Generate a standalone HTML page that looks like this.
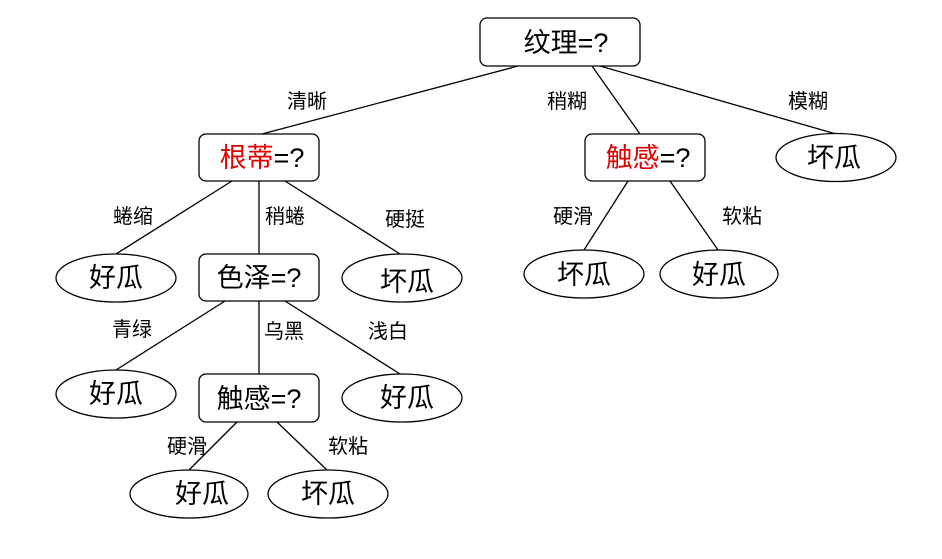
<!DOCTYPE html>
<html><head><meta charset="utf-8"><style>html,body{margin:0;padding:0;background:#fff}svg{display:block}text{font-family:"Liberation Sans","Noto Sans CJK SC",sans-serif;}</style></head>
<body>
<svg width="942" height="559" viewBox="0 0 942 559" xmlns="http://www.w3.org/2000/svg">
<g stroke="#000" stroke-width="1.3" fill="none">
<line x1="518" y1="66" x2="262" y2="134"/>
<line x1="592" y1="66" x2="640" y2="134"/>
<line x1="600" y1="66" x2="836" y2="134"/>
<line x1="232" y1="181" x2="116" y2="254"/>
<line x1="259" y1="181" x2="259" y2="254"/>
<line x1="285" y1="181" x2="400" y2="254"/>
<line x1="628" y1="181" x2="584" y2="250"/>
<line x1="670" y1="181" x2="718" y2="250"/>
<line x1="225" y1="301" x2="116" y2="370"/>
<line x1="259" y1="301" x2="259" y2="374"/>
<line x1="285" y1="301" x2="400" y2="374"/>
<line x1="237" y1="422" x2="189" y2="470"/>
<line x1="277" y1="422" x2="327" y2="470"/>
</g>
<g stroke="#000" stroke-width="1.3" fill="#fff">
<rect x="480" y="18" width="160" height="48" rx="7"/>
<rect x="199" y="134" width="120" height="47" rx="7"/>
<rect x="585" y="134" width="120" height="47" rx="7"/>
<rect x="199" y="254" width="120" height="47" rx="7"/>
<rect x="199" y="374" width="120" height="48" rx="7"/>
<ellipse cx="836" cy="157.5" rx="60" ry="24"/>
<ellipse cx="116" cy="278" rx="60" ry="24"/>
<ellipse cx="402" cy="278" rx="60" ry="24"/>
<ellipse cx="584" cy="274" rx="60" ry="24"/>
<ellipse cx="719" cy="274" rx="59" ry="24"/>
<ellipse cx="116" cy="394" rx="60" ry="24"/>
<ellipse cx="402" cy="398" rx="60" ry="24"/>
<ellipse cx="189" cy="494" rx="59" ry="24"/>
<ellipse cx="328" cy="494" rx="60" ry="24"/>
</g>
<g font-size="27" text-anchor="middle" fill="#000">
<text x="566" y="52">纹理=?</text>
<text x="262" y="167"><tspan fill="#e00000">根蒂</tspan>=?</text>
<text x="648" y="167"><tspan fill="#e00000">触感</tspan>=?</text>
<text x="259" y="287">色泽=?</text>
<text x="259" y="408">触感=?</text>
<text x="834" y="167">坏瓜</text>
<text x="116" y="287">好瓜</text>
<text x="407" y="291">坏瓜</text>
<text x="584" y="284">坏瓜</text>
<text x="719" y="284">好瓜</text>
<text x="116" y="403">好瓜</text>
<text x="407" y="407">好瓜</text>
<text x="202" y="503">好瓜</text>
<text x="328" y="503">坏瓜</text>
</g>
<g font-size="20" text-anchor="middle" fill="#000">
<text x="307" y="108">清晰</text>
<text x="567" y="108">稍糊</text>
<text x="808" y="108">模糊</text>
<text x="133" y="223">蜷缩</text>
<text x="285" y="223">稍蜷</text>
<text x="405" y="226">硬挺</text>
<text x="573" y="223">硬滑</text>
<text x="742" y="223">软粘</text>
<text x="132" y="336">青绿</text>
<text x="284" y="338">乌黑</text>
<text x="388" y="338">浅白</text>
<text x="187" y="453">硬滑</text>
<text x="348" y="453">软粘</text>
</g>
</svg>
</body></html>
